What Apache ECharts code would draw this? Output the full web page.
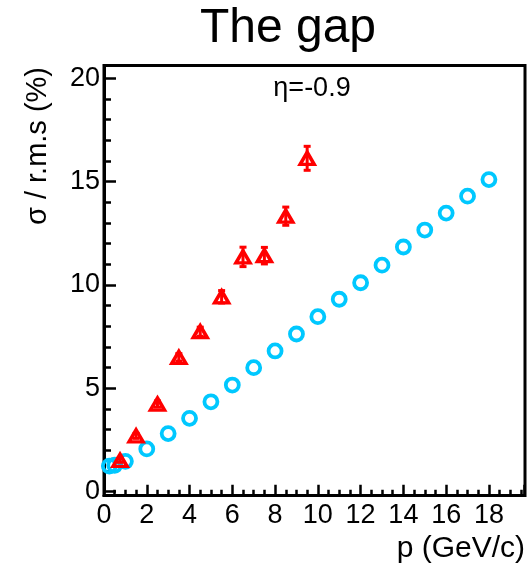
<!DOCTYPE html>
<html>
<head>
<meta charset="utf-8">
<script src="https://cdn.jsdelivr.net/npm/echarts@6/dist/echarts.min.js"></script>
<style>
    html, body { margin: 0; padding: 0; background: #fff; }
    #chart { width: 527px; height: 570px; }
</style>
</head>
<body>
<div id="chart"></div>
<script>
    // values
    const circleP = [0.25, 0.5, 1, 2, 3, 4, 5, 6, 7, 8, 9, 10, 11, 12, 13, 14, 15, 16, 17, 18]
    const circleSigma = [1.24, 1.28, 1.47, 2.07, 2.81, 3.55, 4.35, 5.16, 6.0, 6.81, 7.63, 8.47, 9.31, 10.11, 10.96, 11.84, 12.66, 13.48, 14.3, 15.1]

    const triangleP = [0.75, 1.5, 2.5, 3.5, 4.5, 5.5, 6.5, 7.5, 8.5, 9.5]
    const triangleSigma = [1.52, 2.7, 4.24, 6.5, 7.74, 9.43, 11.36, 11.42, 13.33, 16.13]
    const triangleErr = [0.1, 0.12, 0.15, 0.18, 0.22, 0.3, 0.47, 0.4, 0.44, 0.58]

    const xTicks = { min: 0, max: 19.64, step: 2 }
    const yTicks = { min: 0, max: 20.62, step: 5 }

    const FONT = 'Liberation Sans, Arial, Helvetica, sans-serif'
    const RED = '#ff0000'
    const CYAN = '#00c8ff'

    const onStep = (step) => (v) => (Math.abs(v / step - Math.round(v / step)) < 1e-6 ? String(Math.round(v)) : '')

    const chart = echarts.init(document.getElementById('chart'), null, { renderer: 'canvas' })

    const option = {
        animation: false,
        backgroundColor: '#fff',
        grid: [
            { // data area, y = 0 sits a little above the frame bottom
                left: 104, right: 2, top: 65.5, bottom: 78.3,
                show: false
            },
            { // the frame
                left: 104, right: 2, top: 65.5, bottom: 74.5,
                show: true, borderColor: '#000', borderWidth: 3, backgroundColor: 'transparent'
            }
        ],
        xAxis: [
            {
                gridIndex: 0, type: 'value',
                min: xTicks.min, max: xTicks.max, interval: xTicks.step,
                offset: 4,
                axisLine: { show: true, onZero: false, lineStyle: { color: '#000', width: 3 } },
                axisTick: { inside: true, length: 11, lineStyle: { color: '#000', width: 2.5 } },
                minorTick: { show: true, splitNumber: 4, length: 6, lineStyle: { color: '#000', width: 2.5 } },
                axisLabel: { color: '#000', fontFamily: FONT, fontSize: 27, margin: 6, formatter: onStep(xTicks.step) },
                splitLine: { show: false }
            },
            { gridIndex: 1, type: 'value', show: false, min: 0, max: 1 }
        ],
        yAxis: [
            {
                gridIndex: 0, type: 'value',
                min: yTicks.min, max: yTicks.max, interval: yTicks.step,
                axisLine: { show: true, onZero: false, lineStyle: { color: '#000', width: 3 } },
                axisTick: { inside: true, length: 12, lineStyle: { color: '#000', width: 2.5 } },
                minorTick: { show: true, splitNumber: 5, length: 7, lineStyle: { color: '#000', width: 2.5 } },
                axisLabel: { color: '#000', fontFamily: FONT, fontSize: 27, margin: 4, formatter: onStep(yTicks.step) },
                splitLine: { show: false }
            },
            { gridIndex: 1, type: 'value', show: false, min: 0, max: 1 }
        ],
        graphic: [
            {
                type: 'text', x: 288, y: 29,
                style: { text: 'The gap', font: '48px ' + FONT, fill: '#000', align: 'center', verticalAlign: 'middle' }
            },
            {
                type: 'text', x: 38, y: 146, rotation: Math.PI / 2,
                style: { text: 'σ / r.m.s (%)', font: '29px ' + FONT, fill: '#000', align: 'center', verticalAlign: 'middle' }
            },
            {
                type: 'text', x: 312, y: 89,
                style: { text: 'η=-0.9', font: '27px ' + FONT, fill: '#000', align: 'center', verticalAlign: 'middle' }
            },
            {
                type: 'text', x: 525, y: 549,
                style: { text: 'p (GeV/c)', font: '30px ' + FONT, fill: '#000', align: 'right', verticalAlign: 'middle' }
            }
        ],
        series: [
            {
                name: 'circles', type: 'scatter', xAxisIndex: 0, yAxisIndex: 0,
                symbol: 'circle', symbolSize: 13,
                itemStyle: { color: 'rgba(0,0,0,0)', borderColor: CYAN, borderWidth: 3.8, opacity: 1 },
                data: circleP.map((p, i) => [p, circleSigma[i]]),
                z: 2
            },
            {
                name: 'errors', type: 'custom', xAxisIndex: 0, yAxisIndex: 0,
                data: triangleP.map((p, i) => [p, triangleSigma[i] - triangleErr[i], triangleSigma[i] + triangleErr[i]]),
                renderItem: (params, api) => {
                    const lo = api.coord([api.value(0), api.value(1)])
                    const hi = api.coord([api.value(0), api.value(2)])
                    const style = { stroke: RED, lineWidth: 3 }
                    return {
                        type: 'group',
                        children: [
                            { type: 'line', shape: { x1: lo[0], y1: lo[1], x2: hi[0], y2: hi[1] }, style },
                            { type: 'line', shape: { x1: lo[0] - 3.5, y1: lo[1], x2: lo[0] + 3.5, y2: lo[1] }, style },
                            { type: 'line', shape: { x1: hi[0] - 3.5, y1: hi[1], x2: hi[0] + 3.5, y2: hi[1] }, style }
                        ]
                    }
                },
                z: 3
            },
            {
                name: 'triangles', type: 'scatter', xAxisIndex: 0, yAxisIndex: 0,
                symbol: 'triangle', symbolSize: [14, 12],
                itemStyle: { color: 'rgba(255,255,255,0)', borderColor: RED, borderWidth: 3.5, opacity: 1 },
                data: triangleP.map((p, i) => [p, triangleSigma[i]]),
                z: 4
            }
        ]
    }

    chart.setOption(option)
</script>
</body>
</html>
